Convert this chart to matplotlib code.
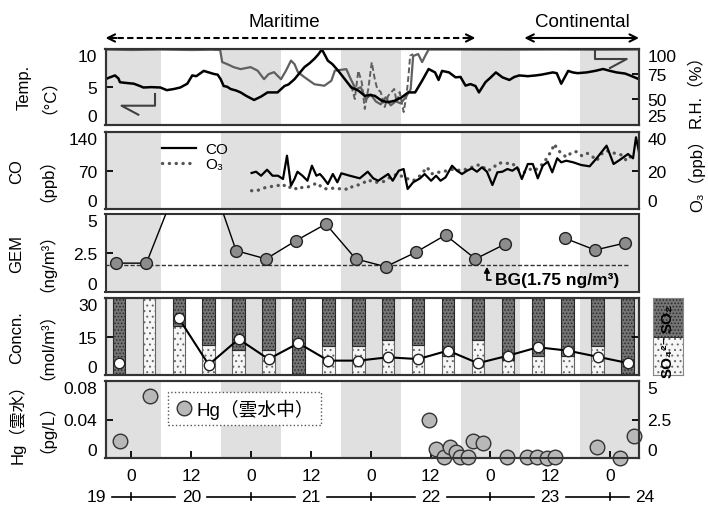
import numpy as np
import matplotlib.pyplot as plt
import matplotlib.transforms as mtransforms

plt.rcParams['font.family'] = ['Liberation Sans', 'Noto Sans CJK JP', 'DejaVu Sans']
plt.rcParams['hatch.linewidth'] = 0.7

nan = np.nan

# time axis: hours from 00:00 on the 20th
night_start = [-6, 18, 42, 66, 90]
night_len = 12
hour_ticks = [0, 12, 24, 36, 48, 60, 72, 84, 96]
hour_labels = ['0', '12', '0', '12', '0', '12', '0', '12', '0']
day_labels = ['19', '20', '21', '22', '23', '24']
day_pos = [-7, 12, 36, 60, 84, 103]
midnights = [0, 24, 48, 72, 96]

# air temperature (degC)
temp_t = [-5.2, -4.5, -3.3, -2.6, -2.3, -1.0, 0.5, 1.7, 2.4, 4.0, 5.8, 7.1, 8.5, 9.8, 11.2,
          12.2, 13.0, 14.5, 15.5, 16.5, 17.3, 17.9, 18.5, 19.2, 19.9, 21.0, 21.9, 23.0, 24.6,
          26.0, 27.3, 29.3, 30.7, 31.5, 32.7, 33.7, 34.7, 35.7, 36.7, 37.5, 38.2, 38.8, 39.4,
          40.3, 41.5, 42.8, 44.1, 45.5, 46.8, 47.8, 48.8, 50.2, 51.5, 52.8, 54.2, 55.5, 56.9,
          58.3, 59.6, 60.9, 61.6, 62.3, 63.7, 65.0, 66.0, 67.0, 68.0, 69.0, 69.7, 71.0, 72.0,
          73.1, 74.4, 75.8, 76.8, 77.8, 79.5, 81.1, 82.2, 83.0, 84.5, 85.3, 86.2, 87.6, 88.5,
          89.5, 91.3, 93.0, 94.6, 96.0, 97.3, 99.0, 100.0, 101.8]
temp = [6.0, 6.2, 6.5, 6.1, 5.6, 5.5, 5.4, 5.1, 4.9, 4.95, 4.9, 4.55, 4.7, 4.9, 5.4,
        6.5, 6.4, 7.1, 6.9, 6.7, 6.6, 6.0, 5.1, 5.0, 4.7, 4.5, 4.25, 3.8, 3.25,
        3.7, 4.25, 4.25, 5.1, 5.3, 6.0, 6.8, 7.6, 8.1, 8.7, 9.3, 9.95, 9.2, 8.45,
        8.0, 7.1, 6.0, 4.9, 4.5, 3.8, 3.9, 3.8, 3.15, 2.95, 3.15, 3.6, 4.25, 4.25,
        5.8, 7.35, 6.9, 5.9, 7.1, 6.9, 6.25, 6.3, 5.15, 5.35, 5.1, 4.25, 5.6, 6.2,
        6.9, 6.25, 5.9, 6.3, 6.5, 6.4, 6.5, 6.6, 6.7, 6.9, 6.8, 5.4, 7.1, 6.9,
        6.8, 6.9, 7.1, 7.35, 7.1, 6.9, 6.75, 6.5, 6.0]

# relative humidity (%)
rh_t = [-5.2, 0, 6, 12, 16, 17.8, 18.2, 19.2, 20.5, 21.9, 23.9, 25.3, 26.6, 27.5, 28.6,
        30.0, 31.0, 32.0, 32.7, 33.4, 34.7, 36.7, 38.7, 40.1, 40.8, 43.1, 44, 45, 46, 47,
        48, 49, 50, 51, 52, 53, 54, 55, 56, 56.5, 57.5, 58.3, 58.9, 59.6, 65, 75, 85, 95, 101.8]
rh = [99.5, 99, 99.5, 99, 99.3, 99, 87, 85, 82, 80, 82, 78.5, 70, 75, 77,
      70, 78.5, 88.5, 85, 77, 72, 65, 63.5, 68.5, 78.5, 80, 70, 60, 62, 50,
      55, 48, 45, 52, 44, 48, 46, 52, 60, 93, 95, 87, 93, 99.5, 99.5, 99.3, 99.5, 99.3, 99.5]
rh2_t = [44.1, 44.8, 45.5, 46.2, 46.8, 47.5, 48.2, 48.8, 49.3, 50.0, 50.8, 51.5, 52.7,
         53.2, 53.8, 54.6, 55.2, 55.6, 55.9, 56.5]
rh2 = [63.5, 50.3, 78.4, 66.9, 40.4, 60.3, 86.8, 70.2, 60.3, 57.3, 42.4, 53.6, 60.3,
       47.3, 57.3, 37.4, 55.3, 75.1, 93.3, 95]

# CO (ppb)
co_t = [24.1, 25, 26, 27.2, 28.3, 29.4, 30.4, 31.2, 32, 32.7, 33.3, 34.3, 35.3, 36.2, 37.1,
        37.8, 38.4, 39.4, 40.4, 41.3, 42.1, 43.8, 45.8, 47.4, 48.5, 49.5, 50.5, 51.5, 52.4,
        53.6, 54.6, 55.4, 56.5, 57.9, 58.8, 60.1, 61.1, 62, 63, 64.3, 65.3, 66.3, 67.3, 68.3,
        69.3, 70.3, 71.3, 72.4, 73.4, 74.4, 75.4, 76.4, 77.4, 78.3, 79.5, 80.5, 81.5, 82.5,
        83.5, 84.4, 85.4, 86.2, 87.2, 88.6, 90.2, 91.9, 93.3, 95.3, 96.7, 98, 99.6, 100.6,
        101.2, 101.8]
co = [65.5, 67.8, 60.5, 71.4, 60.5, 60.5, 54.5, 96.9, 42.4, 54.5, 67.8, 60.5, 51.4, 78.7, 60.5,
      63.6, 57.6, 45.4, 63.6, 48.5, 64.9, 60.5, 55.8, 67.8, 55.8, 51.4, 57.6, 63.6, 51.4,
      69.6, 72.7, 36.4, 48.5, 55.8, 63.6, 51.4, 60.5, 51.4, 57.6, 78.7, 69.6, 63.6, 69.6, 74,
      67.8, 75.8, 67.8, 43.6, 66.7, 67.8, 72.7, 69.6, 75.8, 54.5, 81.8, 81.8, 55.8, 78.7,
      86, 66.7, 92.2, 84.9, 87.8, 84.9, 80, 77.6, 92.2, 115.1, 81.8, 89.6, 100, 92.2,
      130.4, 103.6]

# O3 (ppb)
o3_t = [24.1, 25.2, 26.3, 27.3, 28.3, 29.3, 30.3, 31.3, 32.3, 33.3, 34.3, 35.3, 36.3, 37.3,
        38.3, 39.3, 40.3, 41.4, 42.4, 43.5, 44.5, 45.5, 46.5, 47.5, 48.5, 49.5, 50.5, 51.5,
        52.5, 53.5, 54.5, 55.5, 56.5, 57.9, 59.3, 60.2, 61.0, 62.0, 63.3, 64.7, 66.0, 67.3,
        68.3, 69.3, 70.3, 71.3, 72.4, 73.4, 74.4, 75.4, 76.4, 77.8, 78.8, 79.8, 80.8, 81.8,
        82.8, 83.6, 84.3, 84.8, 85.4, 86.3, 87.3, 88.3, 89.3, 90.3, 91.3, 92.3, 93.3, 94.3,
        95.3, 96.3, 97.3, 98.3, 99.3, 100.3]
o3 = [9.5, 9.5, 10.8, 11.3, 11.8, 12.1, 13.0, 10.8, 11.8, 10.0, 11.3, 11.3, 12.5, 13.5,
      10.8, 10.4, 10.8, 10.4, 10.8, 10.0, 12.1, 12.5, 13.5, 15.2, 13.9, 13.9, 14.2, 15.9,
      17.3, 18.2, 16.5, 15.6, 14.7, 17.3, 21.7, 18.2, 19.1, 19.1, 19.9, 20.8, 19.9, 20.8,
      21.7, 22.9, 22.5, 19.9, 20.8, 23.7, 24.0, 23.7, 23.7, 19.9, 19.1, 20.8, 19.9, 21.7,
      24.3, 27.7, 30.3, 33.8, 31.2, 28.6, 26.9, 29.5, 29.8, 27.7, 29.1, 27.7, 25.1, 28.6,
      30.3, 29.5, 28.6, 28.1, 25.1, 27.7]

# gaseous elemental mercury (ng/m3)
gem_t = [-3, 3, 9, 15, 21, 27, 33, 39, 45, 51, 57, 63, 69, 75, 81, 87, 93, 99]
gem = [1.85, 1.85, 6.7, 8.2, 2.65, 2.12, 3.29, 4.36, 2.12, 1.62, 2.54, 3.65, 2.12, 3.08,
       nan, 3.44, 2.69, 3.14]
bg_level = 1.75
bg_end = 100

# SO2 / SO4 samples
samp_t = [-2.5, 3.5, 9.5, 15.5, 21.5, 27.5, 33.5, 39.5, 45.5, 51.5, 57.5, 63.5, 69.5, 75.5,
          81.5, 87.5, 93.5, 99.5]
so4_share = [0, 100, 63, 39, 33, 32, 0, 38, 38, 45, 39, 25, 46, 19, 25, 25, 38, 0]
concn = [4.6, nan, 22.1, 4.0, 14.0, 6.2, 12.4, 5.6, 5.6, 6.9, 6.2, 9.5, 4.6, 7.5, 10.8, 9.5,
         7.1, 4.7]

# Hg in cloud water (pg/L)
hg_t = [-2.2, 3.7, 59.6, 61.1, 62.7, 63.9, 65.1, 65.8, 67.6, 68.6, 70.5, 75.3, 79.3, 81.3,
        83.3, 85.0, 93.3, 97.9, 100.8]
hg = [0.018, 0.0647, 0.0395, 0.0094, 0.0007, 0.0111, 0.0059, 0.0007, 0.0007, 0.018, 0.0153,
      0.0007, 0.0007, 0.0007, 0.0003, 0.0007, 0.0117, 0.0, 0.0232]

xlim = (-5.2, 101.8)
FS = 12.5
frame_col = '#333333'


def panel(top, bot):
    return [105.5 / 708, 1 - bot / 506, 533.5 / 708, (bot - top) / 506]


def night(ax):
    for s in night_start:
        ax.axvspan(s, s + night_len, color='#e0e0e0', lw=0, zorder=0)


def style(ax, ticks, labels=None, side='left'):
    ax.set_xlim(*xlim)
    ax.set_ylim(ticks[0], ticks[-1])
    ax.set_yticks(ticks, labels if labels else [str(t) for t in ticks])
    ax.tick_params(axis='y', direction='in', length=5, width=1.3, pad=6, labelsize=FS,
                   left=(side == 'left'), labelleft=(side == 'left'),
                   right=(side == 'right'), labelright=(side == 'right'))
    ax.tick_params(axis='x', bottom=False, labelbottom=False)
    tl = ax.get_yticklabels()
    tl[0].set_va('bottom')
    tl[-1].set_va('top')
    for sp in ax.spines.values():
        sp.set_linewidth(1.5)
        sp.set_color(frame_col)


fig = plt.figure(figsize=(7.08, 5.06), dpi=100)

# temperature / RH
ax1r = fig.add_axes(panel(50, 125.5))
ax1 = ax1r.twinx()
ax1.yaxis.tick_left()
night(ax1r)
ax1r.plot(rh_t, rh, color='#606060', lw=1.6)
ax1r.plot(rh2_t, rh2, color='#606060', lw=1.4, ls=(0, (3, 1.5)))
ax1.plot(temp_t, temp, color='k', lw=1.8)
style(ax1r, [25, 50, 75, 100], side='right')
style(ax1, [0, 5, 10], side='left')

trans1 = mtransforms.blended_transform_factory(ax1.transData, ax1.transAxes)
ya = 1.146
ax1.plot([-4.6, 68.4], [ya, ya], transform=trans1, color='k', lw=1.5, ls=(0, (3, 1.6)),
         clip_on=False)
for a, b in [(-3.0, -5.2), (67.0, 69.0)]:
    ax1.annotate('', xy=(b, ya), xytext=(a, ya), xycoords=trans1, textcoords=trans1,
                 arrowprops=dict(arrowstyle='->', lw=1.5, mutation_scale=13,
                                 shrinkA=0, shrinkB=0))
ax1.annotate('', xy=(101.8, ya), xytext=(78.8, ya), xycoords=trans1, textcoords=trans1,
             arrowprops=dict(arrowstyle='<->', lw=1.5, mutation_scale=13, shrinkA=0, shrinkB=0))
ax1.text(30.6, 1.358, 'Maritime', transform=trans1, ha='center', va='center', fontsize=13.5)
ax1.text(90.4, 1.358, 'Continental', transform=trans1, ha='center', va='center',
         fontsize=13.5)

# small direction symbols
ax1.plot([0.0615, 0.030, 0.0928, 0.0928], [0.130, 0.249, 0.249, 0.404],
         transform=ax1.transAxes, color='#404040', lw=1.5)
ax1.plot([0.9175, 0.9175, 0.977, 0.9456], [1.0, 0.8675, 0.8675, 0.748],
         transform=ax1.transAxes, color='#404040', lw=1.5)

# CO / O3
ax2r = fig.add_axes(panel(133, 210))
ax2 = ax2r.twinx()
ax2.yaxis.tick_left()
night(ax2r)
l_o3, = ax2r.plot(o3_t, o3, color='#555555', lw=2.4, ls=(0, (0.05, 2.0)),
                  dash_capstyle='round', label='O₃')
l_co, = ax2.plot(co_t, co, color='k', lw=1.6, label='CO')
style(ax2r, [0, 20, 40], side='right')
style(ax2, [0, 70, 140], side='left')
ax2.legend(handles=[l_co, l_o3], loc='upper left', bbox_to_anchor=(0.095, 0.95),
           frameon=False, fontsize=11, handlelength=2.2, labelspacing=0.1,
           handletextpad=0.6, borderaxespad=0)

# GEM
ax3 = fig.add_axes(panel(215, 293))
night(ax3)
ax3.plot([xlim[0], bg_end], [bg_level, bg_level], color='#333333', lw=1.0,
         ls=(0, (3, 1.5)), zorder=2)
ax3.plot(gem_t, gem, '-o', color='k', lw=1.0, ms=8.5, mfc='#8c8c8c', mec='#222222',
         mew=1.0, zorder=3)
style(ax3, [0, 2.5, 5], ['0', '2.5', '5'])
ax3.annotate('BG(1.75 ng/m³)', xy=(71.3, 1.62), xytext=(73.0, 0.8),
             fontsize=12.5, fontweight='bold', ha='left', va='center',
             arrowprops=dict(arrowstyle='-|>', lw=1.2, color='k', mutation_scale=8,
                             connectionstyle='angle,angleA=180,angleB=90,rad=0',
                             shrinkA=1, shrinkB=0))

# SO2 / SO4 concentrations
ax4b = fig.add_axes(panel(299, 376))
ax4 = ax4b.twinx()
ax4.yaxis.tick_left()
night(ax4b)
ax4b.bar(samp_t, so4_share, width=2.5, color='#f6f6f6', edgecolor='#666666', hatch='...',
         lw=0.8, zorder=2)
ax4b.bar(samp_t, [100 - s for s in so4_share], bottom=so4_share, width=2.5,
         color='#747474', edgecolor='#2a2a2a', hatch='.....', lw=0.8, zorder=2)
ax4b.set_ylim(0, 100)
ax4b.set_xlim(*xlim)
ax4b.tick_params(left=False, labelleft=False, bottom=False, labelbottom=False)
for sp in ax4b.spines.values():
    sp.set_linewidth(1.5)
    sp.set_color(frame_col)
ax4.plot(samp_t, concn, '-o', color='k', lw=1.5, ms=7.5, mfc='white', mec='#222222',
         mew=1.0, zorder=3)
style(ax4, [0, 15, 30])
ax4.tick_params(axis='y', right=True, labelright=False)

# SO2 / SO4 key
axk = fig.add_axes([653 / 708, 1 - 376 / 506, 30 / 708, 77 / 506])
axk.bar(0.5, 50, width=1, bottom=0, color='#f6f6f6', edgecolor='#666666', hatch='...',
        lw=0.6)
axk.bar(0.5, 50, width=1, bottom=50, color='#747474', edgecolor='#2a2a2a', hatch='.....',
        lw=0.6)
axk.set_xlim(0, 1)
axk.set_ylim(0, 100)
axk.set_xticks([])
axk.set_yticks([])
for sp in axk.spines.values():
    sp.set_color('#888888')
axk.text(0.5, 75, 'SO₂', rotation=90, ha='center', va='center', fontsize=11,
         fontweight='bold')
axk.text(0.5, 25, 'SO₄²⁻', rotation=90, ha='center', va='center', fontsize=11,
         fontweight='bold')

# Hg in cloud water
ax5 = fig.add_axes(panel(382, 459))
ax5r = ax5.twinx()
night(ax5)
ax5.plot(hg_t, hg, 'o', ms=10.5, mfc='#b8b8b8', mec='#333333', mew=1.0, clip_on=False,
         zorder=4, label='Hg（雲水中）')
style(ax5, [0, 0.04, 0.08], ['0', '0.04', '0.08'])
style(ax5r, [0, 2.5, 5], ['0', '2.5', '5'], side='right')
ax5.set_xticks(hour_ticks, hour_labels)
ax5.tick_params(axis='x', bottom=True, labelbottom=True, direction='in', length=5,
                width=1.3, pad=7, labelsize=FS)
leg = ax5.legend(loc='upper left', bbox_to_anchor=(0.117, 0.86), fontsize=13.5,
                 fancybox=False, edgecolor='#555555', borderpad=0.35, handletextpad=0.2,
                 handlelength=1.0, borderaxespad=0, framealpha=1)
leg.get_frame().set_linestyle(':')
leg.get_frame().set_linewidth(1.0)

# day row
trans5 = mtransforms.blended_transform_factory(ax5.transData, ax5.transAxes)
yd = -0.506
for d, p in zip(day_labels, day_pos):
    ax5.text(p, yd, d, transform=trans5, ha='center', va='center', fontsize=FS)
for i, m in enumerate(midnights):
    ax5.plot([day_pos[i] + 3.2, day_pos[i + 1] - 3.2], [yd, yd], transform=trans5,
             color='k', lw=1.2, clip_on=False)
    ax5.plot([m, m], [yd - 0.045, yd + 0.045], transform=trans5, color='k', lw=1.2,
             clip_on=False)

# axis titles, one text per line
left_titles = [('Temp.', '（°C）', 87.75, 24, 40),
               ('CO', '（ppb）', 171.5, 17, 38),
               ('GEM', '（ng/m³）', 254, 17, 38),
               ('Concn.', '（mol/m³）', 337.5, 17, 38),
               ('Hg（雲水）', '（pg/L）', 420.5, 17, 38)]
for l1, l2, yc, x1, x2 in left_titles:
    fig.text(x1 / 708, 1 - yc / 506, l1, rotation=90, ha='center', va='center', fontsize=12)
    fig.text(x2 / 708, 1 - yc / 506, l2, rotation=90, ha='center', va='center', fontsize=12)
fig.text(695 / 708, 1 - 87.75 / 506, 'R.H.（%）', rotation=90, ha='center', va='center',
         fontsize=12)
fig.text(697 / 708, 1 - 171.5 / 506, 'O₃（ppb）', rotation=90, ha='center', va='center',
         fontsize=12)

fig.savefig('out.png', dpi=100)
